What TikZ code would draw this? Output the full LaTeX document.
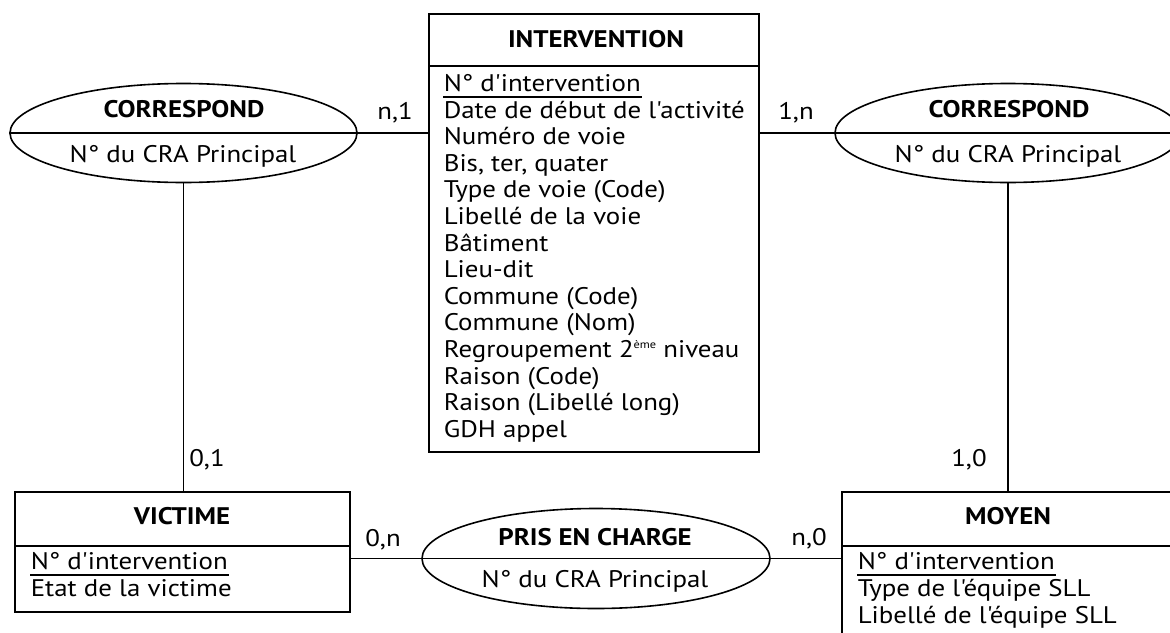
\documentclass[tikz,border=0pt]{standalone}
\usepackage{fontspec}
\setmainfont{PT Sans}[Ligatures=TeXOff,FakeStretch=1.12]
\usetikzlibrary{shapes.geometric}
\newcommand\supsmall[1]{\raisebox{9pt}{\fontsize{11}{11}\selectfont #1}}
\begin{document}
\begin{tikzpicture}[x=1pt,y=-1pt,line width=1.6pt,
  ent/.style={draw,rectangle,inner sep=0pt},
  rel/.style={draw,ellipse,inner sep=0pt},
  txt/.style={inner sep=0pt,font=\fontsize{24}{26.6}\selectfont},
  hdr/.style={inner sep=0pt,anchor=base,font=\fontsize{24}{26.6}\selectfont\bfseries},
  attr/.style={txt,anchor=base west},
  card/.style={txt,anchor=base},
  ulin/.style={line width=1.3pt}]
\useasboundingbox (0,0) rectangle (1170,632);
\clip (0,0) rectangle (1170,632);

% entities
\node[ent,minimum width=330pt,minimum height=438pt] (interv) at (594,233) {};
\node[ent,minimum width=335pt,minimum height=120pt] (vict) at (182.5,552) {};
\node[ent,minimum width=340pt,minimum height=160pt] (moyen) at (1012,572) {};
\draw (interv.west |- 0,66) -- (interv.east |- 0,66);
\draw (vict.west |- 0,546) -- (vict.east |- 0,546);
\draw (moyen.west |- 0,546) -- (moyen.east |- 0,546);

% relations
\node[rel,minimum width=347pt,minimum height=99pt] (cl) at (183.5,133) {};
\node[rel,minimum width=346pt,minimum height=99pt] (cr) at (1008,133) {};
\node[rel,minimum width=348pt,minimum height=100pt] (pec) at (596,558.5) {};
\draw (cl.west) -- (cl.east);
\draw (cr.west) -- (cr.east);
\draw (pec.west) -- (pec.east);

% connectors
\draw (cl.east) -- (cl.east -| interv.west);
\draw (cr.west) -- (cr.west -| interv.east);
\draw (cl.south) -- (cl.south |- vict.north);
\draw (cr.south) -- (cr.south |- moyen.north);
\draw (pec.west) -- (pec.west -| vict.east);
\draw (pec.east) -- (pec.east -| moyen.west);

% cardinalities
\node[card] (k1) at (395,119) {n,1};
\node[card] (k2) at (796,119) {1,n};
\node[card] (k3) at (207,466) {0,1};
\node[card] (k4) at (969,466) {1,0};
\node[card] (k5) at (383,546) {0,n};
\node[card] (k6) at (809,545) {n,0};

% relation texts
\node[hdr] (clh) at (184,117) {CORRESPOND};
\node[txt,anchor=base] (clt) at (183,162) {N° du CRA Principal};
\node[hdr] (crh) at (1009,117) {CORRESPOND};
\node[txt,anchor=base] (crt) at (1008,162) {N° du CRA Principal};
\node[hdr] (pech) at (595,545) {PRIS EN CHARGE};
\node[txt,anchor=base] (pect) at (595,587) {N° du CRA Principal};

% INTERVENTION
\node[hdr] (ih) at (596,47) {INTERVENTION};
\foreach \t [count=\i from 0] in {N° d'intervention, Date de début de l'activité,
  Numéro de voie, {Bis, ter, quater}, Type de voie (Code), Libellé de la voie,
  Bâtiment, Lieu-dit, Commune (Code), Commune (Nom),
  {Regroupement 2\supsmall{ème} niveau}, Raison (Code),
  Raison (Libellé long), GDH appel}
  \node[attr] (ia\i) at (443,91.5+26.6*\i) {\t};
\draw[ulin] ([yshift=-5.5pt]ia0.base west) -- ([yshift=-5.5pt]ia0.base east);

% VICTIME
\node[hdr] (vh) at (182,524) {VICTIME};
\node[attr] (va0) at (30,569.5) {N° d'intervention};
\node[attr] (va1) at (30,596.5) {Etat de la victime};
\draw[ulin] ([yshift=-5.5pt]va0.base west) -- ([yshift=-5.5pt]va0.base east);

% MOYEN
\node[hdr] (mh) at (1008,524) {MOYEN};
\node[attr] (ma0) at (857,569.5) {N° d'intervention};
\node[attr] (ma1) at (857,596.5) {Type de l'équipe SLL};
\node[attr] (ma2) at (857,623.5) {Libellé de l'équipe SLL};
\draw[ulin] ([yshift=-5.5pt]ma0.base west) -- ([yshift=-5.5pt]ma0.base east);
\end{tikzpicture}
\end{document}
